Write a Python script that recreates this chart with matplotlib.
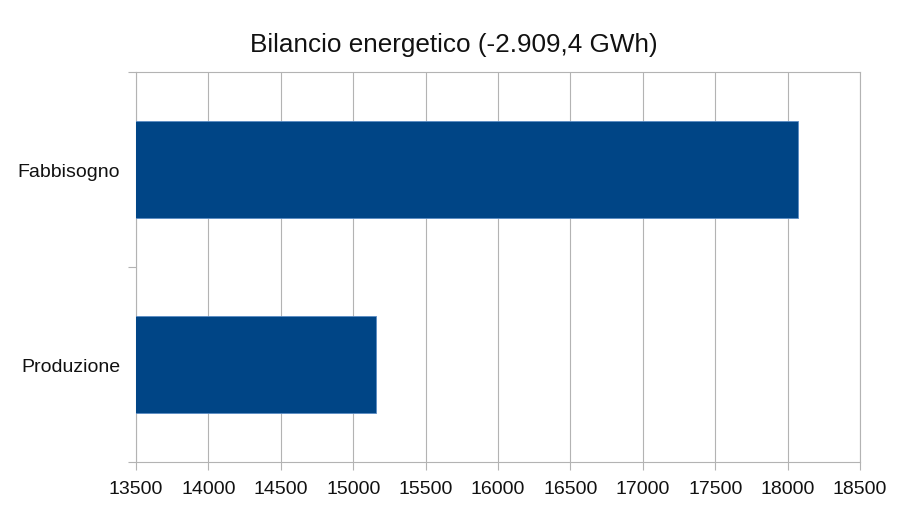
import matplotlib
matplotlib.use("Agg")
import matplotlib.pyplot as plt
import numpy as np

categories = ["Produzione", "Fabbisogno"]
values = [15160.6, 18070.0]
title = "Bilancio energetico (-2.909,4 GWh)"
x_ticks = list(range(13500, 18501, 500))

plt.rcParams['font.family'] = ['Liberation Sans', 'DejaVu Sans']

grey = '#b3b3b3'
fig = plt.figure(figsize=(9.07, 5.10), dpi=100)
ax = fig.add_axes([136/907, 1 - 463/510, (860 - 136)/907, (463 - 73)/510])

y = np.arange(len(categories))
ax.barh(y, values, height=0.5, left=0, color='#004586', edgecolor='#5b8cc4',
        linewidth=0.6, zorder=3)

ax.set_xlim(13500, 18500)
ax.set_ylim(-0.5, len(categories) - 0.5)
ax.set_xticks(x_ticks)
ax.set_xticklabels([str(t) for t in x_ticks], fontsize=14, color='#111111')
ax.grid(axis='x', color=grey, linewidth=0.8, zorder=0)
ax.tick_params(axis='x', length=5.8, width=0.8, color=grey, pad=7.5)

ax.set_yticks(y)
ax.set_yticklabels(categories, fontsize=14, color='#111111')
ax.tick_params(axis='y', which='major', length=0, pad=11.5)
ax.set_yticks(np.arange(-0.5, len(categories)), minor=True)
ax.tick_params(axis='y', which='minor', length=5.8, width=0.8, color=grey)

for s in ax.spines.values():
    s.set_color(grey)
    s.set_linewidth(0.8)

fig.text(0.5, 1 - 52/510, title, ha='center', va='baseline', fontsize=18.8,
         color='#111111')

fig.savefig("out.png", dpi=100)
